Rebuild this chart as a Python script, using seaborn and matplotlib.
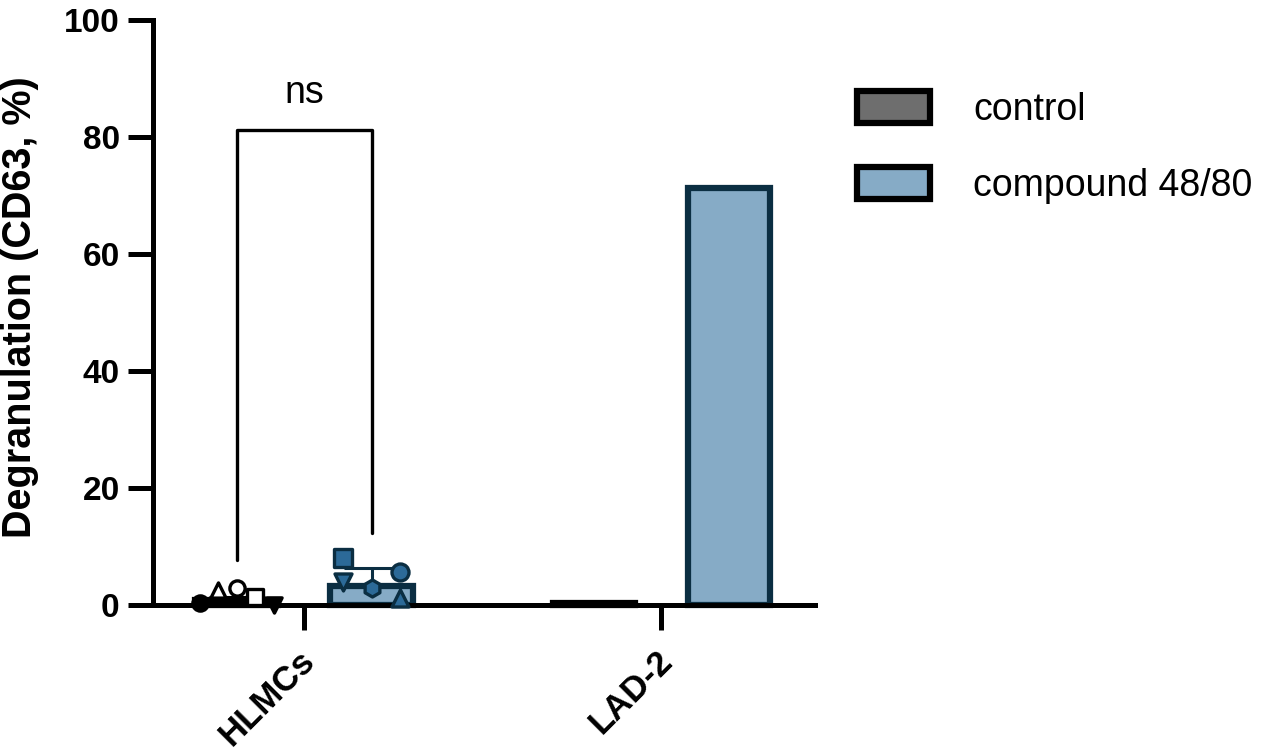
import numpy as np
import pandas as pd
import seaborn as sns
import matplotlib
matplotlib.use("Agg")
import matplotlib.pyplot as plt
import matplotlib.transforms as mtransforms
from matplotlib.patches import Patch

# data
cells = ["HLMCs", "LAD-2"]
treatments = ["control", "compound 48/80"]
control_mean = [0.9, 0.3]
compound_mean = [3.2, 71.3]
control_sd = [0.5, 0.0]
compound_sd = [3.1, 0.0]

# individual HLMC donors
hlmc_control_pts = [0.3, 2.6, 2.9, 1.4, 0.0]
hlmc_compound_pts = [8.0, 3.9, 2.9, 5.6, 1.2]
donor_markers_ctrl = ["o", "^", "o", "s", "v"]
donor_filled_ctrl = [True, False, False, False, True]
donor_markers_cmp = ["s", "v", "h", "o", "^"]
donor_col_ctrl = [-2, -1, 0, 1, 2]
donor_col_cmp = [-1, -1, 0, 1, 1]

# significance bracket (HLMCs control vs compound)
bracket_top = 81.2
bracket_feet = [7.7, 12.3]
sig_label = "ns"

gray = "#6e6e6e"
blue = "#86abc6"
navy = "#0b2e42"
dot_blue = "#2c6a98"

sns.set_style("ticks", {"axes.edgecolor": "black", "xtick.color": "black",
                        "ytick.color": "black", "text.color": "black",
                        "axes.labelcolor": "black"})
plt.rcParams["font.family"] = ["Liberation Sans", "DejaVu Sans"]

df = pd.DataFrame({
    "cell": cells * 2,
    "treatment": [treatments[0]] * 2 + [treatments[1]] * 2,
    "value": control_mean + compound_mean,
})

fig = plt.figure(figsize=(12.64, 7.51), dpi=100)
ax = fig.add_axes([153 / 1264, 1 - 605 / 751, 662 / 1264, 585 / 751])

sns.barplot(data=df, x="cell", y="value", hue="treatment", order=cells,
            hue_order=treatments, palette=[gray, blue], saturation=1,
            width=0.756, gap=0.386, errorbar=None, linewidth=4.5,
            legend=False, ax=ax, zorder=2)

edges = ["black", navy]
centers = []
for cont, ec in zip(ax.containers, edges):
    xs = []
    for bar in cont:
        bar.set_edgecolor(ec)
        bar.set_clip_on(False)
        xs.append(bar.get_x() + bar.get_width() / 2)
    centers.append(xs)

# error bars (mean + SD, upper only)
for xs, means, sds, ec in [(centers[0], control_mean, control_sd, "black"),
                           (centers[1], compound_mean, compound_sd, navy)]:
    for x, m, s in zip(xs, means, sds):
        if s > 0:
            ax.errorbar(x, m, yerr=[[0], [s]], color=ec, elinewidth=2.2,
                        capthick=2.2, capsize=20, zorder=3, clip_on=False)

# donor points for HLMCs
for val, mk, filled, col in zip(hlmc_control_pts, donor_markers_ctrl,
                                donor_filled_ctrl, donor_col_ctrl):
    ax.scatter(centers[0][0] + col * 0.052, val, marker=mk, s=120,
               facecolor="black" if filled else "white", edgecolor="black",
               linewidth=2.4, zorder=4, clip_on=False)
for val, mk, col in zip(hlmc_compound_pts, donor_markers_cmp, donor_col_cmp):
    ax.scatter(centers[1][0] + col * 0.08, val, marker=mk, s=150,
               facecolor=dot_blue, edgecolor=navy, linewidth=2.4,
               zorder=4, clip_on=False)

# ns bracket
x0, x1 = centers[0][0], centers[1][0]
ax.plot([x0, x0, x1, x1], [bracket_feet[0], bracket_top, bracket_top, bracket_feet[1]],
        color="black", lw=2.4, zorder=3)
ax.text((x0 + x1) / 2, bracket_top + 4.6, sig_label, ha="center", va="baseline",
        fontsize=27)

ax.set_ylim(0, 100)
ax.set_xlim(-0.424, 1.43)
ax.set_yticks([0, 20, 40, 60, 80, 100])
ax.set_xlabel("")
ax.set_ylabel("Degranulation (CD63, %)", fontsize=28.5, fontweight="bold")
ax.yaxis.set_label_coords(-0.172, 0.51)

sns.despine(ax=ax)
for side in ["left", "bottom"]:
    ax.spines[side].set_linewidth(3.6)
ax.tick_params(axis="both", length=18, width=3.6, labelsize=24, pad=6)
ax.tick_params(axis="x", pad=10)
shift = mtransforms.ScaledTranslation(-6 / 100, 0, fig.dpi_scale_trans)
for lab in ax.get_yticklabels():
    lab.set_fontweight("bold")
for lab in ax.get_xticklabels():
    lab.set_fontweight("bold")
    lab.set_fontsize(25)
    lab.set_rotation(45)
    lab.set_ha("right")
    lab.set_rotation_mode("anchor")
    lab.set_transform(lab.get_transform() + shift)

handles = [Patch(facecolor=gray, edgecolor="black", linewidth=4.5),
           Patch(facecolor=blue, edgecolor="black", linewidth=4.5)]
fig.legend(handles, treatments, loc="upper left",
           bbox_to_anchor=(857 / 1264, 1 - 91 / 751), frameon=False,
           fontsize=27, handlelength=1.95, handleheight=0.92,
           handletextpad=1.15, labelspacing=1.05, borderpad=0, borderaxespad=0)

fig.savefig("out.png", dpi=100)
